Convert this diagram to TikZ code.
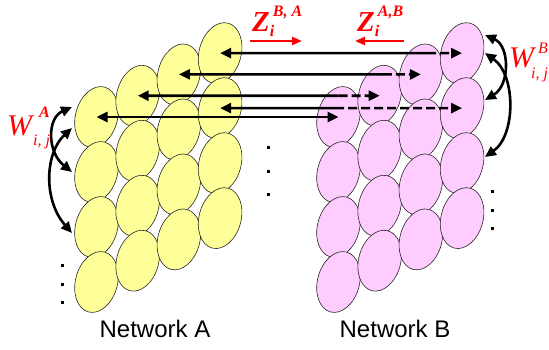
\documentclass[tikz,border=0pt]{standalone}
\usepackage{fontspec}
\setmainfont{Liberation Serif}
\newfontfamily\netfont{Liberation Sans}
\usetikzlibrary{shapes.geometric,arrows.meta,calc}
\definecolor{ayel}{HTML}{FFFF99}
\definecolor{bpink}{HTML}{FFCCFF}
\definecolor{lred}{HTML}{FF0000}
\tikzset{
  cell/.style={ellipse, draw=black!85, line width=0.6pt, minimum width=42pt, minimum height=62pt, inner sep=0pt, rotate=-15},
  acell/.style={cell, fill=ayel},
  bcell/.style={cell, fill=bpink},
  link/.style={line width=2.6pt, draw=black},
  dashlink/.style={link, dash pattern=on 9pt off 4pt},
  >={Triangle[length=11pt,width=10pt]},
  redarrow/.style={line width=2.6pt, draw=lred, -{Triangle[length=10pt,width=8pt]}},
  zlab/.style={text=lred, inner sep=0pt, font=\bfseries\itshape\fontsize{29}{29}\selectfont},
  wlab/.style={text=lred, inner sep=0pt, font=\itshape\fontsize{30}{30}\selectfont},
  netlab/.style={inner sep=0pt, font=\netfont\fontsize{24}{24}\selectfont},
  dot/.style={rectangle, fill=black, minimum size=3pt, inner sep=0pt},
}
\newcommand\smallsc[1]{{\fontsize{16}{16}\selectfont #1}}
\begin{document}
\begin{tikzpicture}[x=1pt,y=-1pt]
\useasboundingbox (0,0) rectangle (549,349);
% network A and B
\foreach \r in {0,...,3}{
  \foreach \c in {0,...,3}{
    \node[acell] (a\c\r) at ({96.5+41.2*\c},{117-21.3*\c+55*\r}) {};
    \node[bcell] (b\c\r) at ({338.5+41.2*\c},{117-21.3*\c+55*\r}) {};
  }
}
% horizontal links
\coordinate (s1) at ($(a30.center)!0.855!(b30.center)$);
\coordinate (s2) at ($(a20.center)!0.843!(b20.center)$);
\coordinate (s3) at ($(a10.center)!0.83!(b10.center)$);
\coordinate (s4) at ($(a31.center)!0.475!(b31.center)$);
\draw[link,<-] (a30.center) -- (s1);
\draw[dashlink,->] (s1) -- (b30.center);
\draw[link,<-] (a20.center) -- (s2);
\draw[dashlink,->] (s2) -- (b20.center);
\draw[link,<-] (a10.center) -- (s3);
\draw[dashlink,->] (s3) -- (b10.center);
\draw[link,<-] (a31.center) -- (s4);
\draw[dashlink,->] (s4) -- (b31.center);
\draw[link,<->] (a00.center) -- (b00.center);
% intra-network links A
\coordinate (la1) at (72,107);
\coordinate (la2) at (72,172);
\coordinate (la3) at (72,128);
\coordinate (la4) at (72,233);
\draw[link,<->] (la1) .. controls (47,118) and (47,152) .. (la2);
\draw[link,<->] (la3) .. controls (45,153) and (43,200) .. (la4);
% intra-network links B
\coordinate (rb1) at (485,35);
\coordinate (rb2) at (485,100);
\coordinate (rb3) at (485,53);
\coordinate (rb4) at (485,157);
\draw[link,<->] (rb1) .. controls (510,46) and (510,85) .. (rb2);
\draw[link,<->] (rb3) .. controls (516,75) and (516,135) .. (rb4);
% red direction arrows
\coordinate (ra1) at (250,41);
\coordinate (ra2) at (302,41);
\coordinate (rc1) at (404,41);
\coordinate (rc2) at (355,41);
\draw[redarrow] (ra1) -- (ra2);
\draw[redarrow] (rc1) -- (rc2);
% labels
\node[zlab, anchor=base west] (zba) at (252,31) {Z\kern0pt\rlap{\raisebox{-5pt}{\smallsc{i}}}\kern3pt\raisebox{15pt}{\smallsc{B, A}}};
\node[zlab, anchor=base west] (zab) at (357,31) {Z\kern0pt\rlap{\raisebox{-5pt}{\smallsc{i}}}\kern3pt\raisebox{15pt}{\smallsc{A,B}}};
\node[wlab, anchor=base west] (wa) at (7,135) {W\kern1pt\rlap{\raisebox{-10pt}{\smallsc{i, j}}}\kern6pt\raisebox{18pt}{\smallsc{\bfseries A}}};
\node[wlab, anchor=base west] (wb) at (509,67) {W\kern-3pt\rlap{\raisebox{-11pt}{\smallsc{i, j}}}\kern7pt\raisebox{14pt}{\smallsc{B}}};
\node[netlab, anchor=base] (na) at (155,337) {Network A};
\node[netlab, anchor=base] (nb) at (395,337) {Network B};
% dots
\node[dot] (d1) at (62,265) {};
\node[dot] (d2) at (62,284) {};
\node[dot] (d3) at (62,302) {};
\node[dot] (d4) at (268,147) {};
\node[dot] (d5) at (268,171) {};
\node[dot] (d6) at (268,194) {};
\node[dot] (d7) at (492,191) {};
\node[dot] (d8) at (492,210) {};
\node[dot] (d9) at (492,228) {};
\end{tikzpicture}
\end{document}
